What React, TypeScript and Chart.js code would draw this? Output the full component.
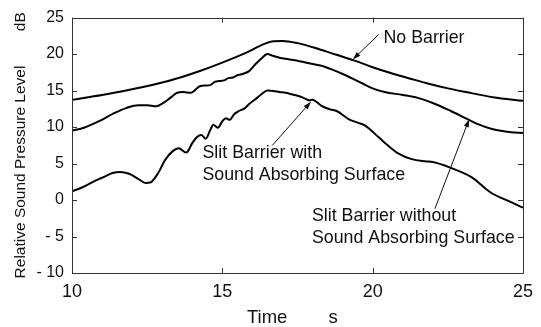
import React, { useEffect, useRef } from "react";
import { Chart, registerables } from "chart.js";

Chart.register(...registerables);

// ---- data ----
const xTickValues = [10, 15, 20, 25];
const yTickValues = [-10, -5, 0, 5, 10, 15, 20, 25];
const yTickLabels = ["- 10", "- 5", "0", "5", "10", "15", "20", "25"];

const seriesNames = ["No Barrier", "Slit Barrier without Sound Absorbing Surface", "Slit Barrier with Sound Absorbing Surface"];

const noBarrierT = [10, 11, 11.8, 12.9, 13.6, 14.3, 15.1, 15.8, 16.4, 16.7, 17.0, 17.5, 18.2, 18.8, 19.4, 20.0, 20.6, 21.2, 21.8, 22.5, 23.1, 24.0, 25];
const noBarrierV = [13.75, 14.4, 15.0, 16.0, 16.8, 17.75, 19.0, 20.2, 21.4, 21.75, 21.8, 21.5, 20.7, 19.9, 19.1, 18.2, 17.4, 16.7, 16.0, 15.3, 14.8, 14.1, 13.6];

const withoutT = [10, 10.4, 10.9, 11.4, 11.8, 12.2, 12.5, 12.8, 13.0, 13.3, 13.5, 13.7, 13.95, 14.1, 14.25, 14.45, 14.6, 14.75, 14.9, 15.05, 15.2, 15.35, 15.5, 15.7, 15.9, 16.1, 16.3, 16.5, 16.65, 16.9, 17.2, 17.5, 17.8, 18.3, 18.7, 19.1, 19.65, 20.0, 20.4, 21.0, 21.5, 22.0, 22.6, 23.1, 23.5, 24.0, 24.6, 25];
const withoutV = [9.5, 9.9, 10.8, 11.9, 12.6, 13.0, 13.0, 12.85, 13.2, 14.1, 14.7, 14.8, 14.7, 15.1, 15.6, 15.7, 15.75, 16.2, 16.3, 16.4, 16.7, 16.8, 17.1, 17.3, 17.7, 18.6, 19.4, 20.0, 19.8, 19.5, 19.3, 19.1, 18.8, 18.4, 17.8, 17.1, 16.0, 15.3, 14.8, 14.4, 14.0, 13.3, 12.2, 11.2, 10.4, 9.7, 9.3, 9.2];

const withT = [10, 10.35, 10.7, 11.0, 11.35, 11.6, 11.9, 12.2, 12.45, 12.6, 12.85, 13.1, 13.35, 13.55, 13.8, 14.0, 14.15, 14.3, 14.45, 14.6, 14.7, 14.85, 15.0, 15.12, 15.25, 15.4, 15.55, 15.75, 15.9, 16.1, 16.3, 16.5, 16.7, 16.9, 17.1, 17.3, 17.5, 17.7, 17.9, 18.0, 18.15, 18.3, 18.6, 18.8, 19.2, 19.5, 19.75, 20.2, 20.5, 20.85, 21.3, 21.75, 22.0, 22.6, 23.3, 23.9, 24.6, 25];
const withV = [1.2, 1.75, 2.5, 3.05, 3.7, 3.85, 3.6, 2.9, 2.35, 2.4, 3.6, 5.5, 6.7, 7.1, 6.5, 7.8, 8.6, 8.9, 8.4, 9.6, 10.3, 9.9, 10.8, 11.2, 11.0, 11.8, 12.2, 12.6, 13.2, 13.8, 14.5, 15.0, 14.95, 14.8, 14.7, 14.5, 14.3, 14.0, 13.65, 13.75, 13.4, 12.9, 12.4, 12.2, 11.1, 10.6, 10.2, 8.6, 7.5, 6.4, 5.6, 5.3, 5.2, 4.4, 3.1, 1.1, -0.3, -1.05];

const annotationLines = [
  ["No Barrier"],
  ["Slit Barrier with", "Sound Absorbing Surface"],
  ["Slit Barrier without", "Sound Absorbing Surface"],
];

// annotation placement (data units): text anchor and arrow from -> to
const annotationPlacement = [
  { tx: 20.36, ty: 22.16, ax1: 20.2, ay1: 22.7, ax2: 19.34, ay2: 19.25 },
  { tx: 14.34, ty: 6.41, ax1: 16.66, ay1: 7.48, ax2: 17.95, ay2: 13.48 },
  { tx: 17.98, ty: -2.27, ax1: 22.07, ay1: -1.2, ax2: 23.21, ay2: 11.08 },
];

const toPoints = (t: number[], v: number[]) => t.map((x, i) => ({ x, y: v[i] }));

const frameColor = "#333";
const FONT = "'Liberation Sans', Arial, Helvetica, sans-serif";

const framePlugin = {
  id: "frameAndNotes",
  afterDraw(chart: any) {
    const { ctx, chartArea } = chart;
    const xs = chart.scales.x;
    const ys = chart.scales.y;
    const { left, right, top, bottom } = chartArea;
    ctx.save();
    ctx.strokeStyle = frameColor;
    ctx.lineWidth = 1;
    ctx.beginPath();
    ctx.rect(Math.round(left) + 0.5, Math.round(top) + 0.5, Math.round(right - left), Math.round(bottom - top));
    ctx.stroke();
    const tl = 5;
    ctx.beginPath();
    xTickValues.forEach((v) => {
      const px = Math.round(xs.getPixelForValue(v)) + 0.5;
      ctx.moveTo(px, bottom);
      ctx.lineTo(px, bottom - tl);
      ctx.moveTo(px, top);
      ctx.lineTo(px, top + tl);
    });
    yTickValues.forEach((v) => {
      const py = Math.round(ys.getPixelForValue(v)) + 0.5;
      ctx.moveTo(left, py);
      ctx.lineTo(left + tl, py);
      ctx.moveTo(right, py);
      ctx.lineTo(right - tl, py);
    });
    ctx.stroke();

    // annotations
    ctx.fillStyle = "#111";
    ctx.strokeStyle = "#111";
    ctx.font = `17.8px ${FONT}`;
    ctx.textAlign = "left";
    ctx.textBaseline = "middle";
    annotationPlacement.forEach((p, i) => {
      const tx = xs.getPixelForValue(p.tx);
      const ty = ys.getPixelForValue(p.ty);
      annotationLines[i].forEach((line, j) => {
        ctx.fillText(line, tx, ty + j * 21.5);
      });
      const x1 = xs.getPixelForValue(p.ax1);
      const y1 = ys.getPixelForValue(p.ay1);
      const x2 = xs.getPixelForValue(p.ax2);
      const y2 = ys.getPixelForValue(p.ay2);
      const ang = Math.atan2(y2 - y1, x2 - x1);
      const hl = 8;
      const hw = 2.6;
      ctx.lineWidth = 1;
      ctx.beginPath();
      ctx.moveTo(x1, y1);
      ctx.lineTo(x2 - Math.cos(ang) * hl * 0.8, y2 - Math.sin(ang) * hl * 0.8);
      ctx.stroke();
      ctx.beginPath();
      ctx.moveTo(x2, y2);
      ctx.lineTo(x2 - Math.cos(ang) * hl - Math.sin(ang) * hw, y2 - Math.sin(ang) * hl + Math.cos(ang) * hw);
      ctx.lineTo(x2 - Math.cos(ang) * hl + Math.sin(ang) * hw, y2 - Math.sin(ang) * hl - Math.cos(ang) * hw);
      ctx.closePath();
      ctx.fill();
    });
    ctx.restore();
  },
};

export default function App() {
  const ref = useRef<HTMLCanvasElement | null>(null);
  useEffect(() => {
    if (!ref.current) return;
    const mk = (label: string, t: number[], v: number[]) => ({
      label,
      data: toPoints(t, v),
      borderColor: "#000",
      borderWidth: 2,
      pointRadius: 0,
      fill: false,
      cubicInterpolationMode: "monotone" as const,
    });
    const chart = new Chart(ref.current, {
      type: "line",
      data: {
        datasets: [
          mk(seriesNames[0], noBarrierT, noBarrierV),
          mk(seriesNames[1], withoutT, withoutV),
          mk(seriesNames[2], withT, withV),
        ],
      },
      options: {
        animation: false,
        responsive: false,
        layout: { padding: { top: 11, right: 16, left: 0, bottom: 0 } },
        plugins: { legend: { display: false }, tooltip: { enabled: false } },
        scales: {
          x: {
            type: "linear",
            min: 10,
            max: 25,
            grid: { display: false, drawTicks: false },
            border: { display: false },
            ticks: {
              stepSize: 5,
              padding: 8,
              color: "#111",
              font: { family: FONT, size: 18 },
              maxRotation: 0,
            },
            title: {
              display: true,
              text: "Time        s  ",
              color: "#111",
              font: { family: FONT, size: 18.5, lineHeight: 1 },
              padding: { top: 0, bottom: 0 },
            },
            afterFit: (s: any) => {
              s.height = 54;
            },
          },
          y: {
            type: "linear",
            min: -10,
            max: 25,
            grid: { display: false, drawTicks: false },
            border: { display: false },
            ticks: {
              stepSize: 5,
              padding: 8,
              color: "#111",
              font: { family: FONT, size: 16 },
              callback: (v: any) => {
                const i = yTickValues.indexOf(Number(v));
                return i >= 0 ? yTickLabels[i] : "";
              },
            },
            title: {
              display: true,
              text: "Relative Sound Pressure Level        dB",
              color: "#111",
              font: { family: FONT, size: 15.5, lineHeight: 1 },
              padding: { top: 13, bottom: 0 },
            },
            afterFit: (s: any) => {
              s.width = 72;
            },
          },
        },
      },
      plugins: [framePlugin],
    });
    return () => chart.destroy();
  }, []);
  return (
    <div style={{ position: "fixed", left: 0, top: 0, width: 541, height: 327, background: "#fff" }}>
      <canvas ref={ref} width={541} height={327} style={{ display: "block" }} />
    </div>
  );
}
